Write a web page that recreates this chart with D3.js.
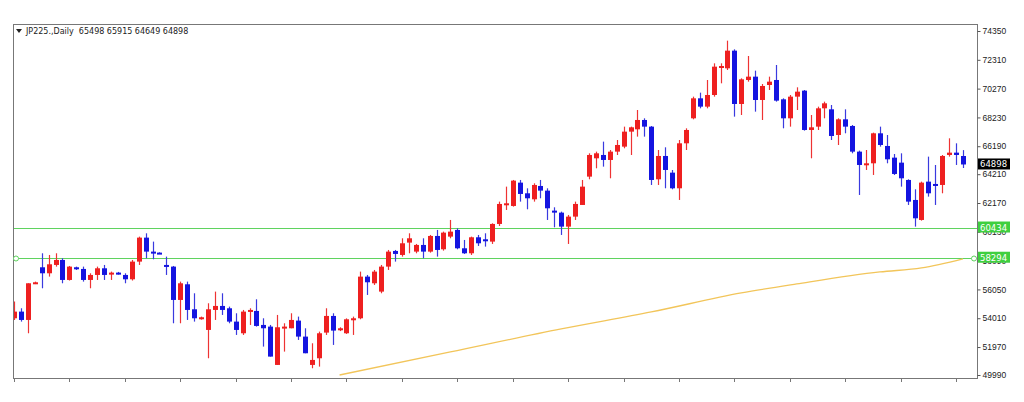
<!DOCTYPE html>
<html><head><meta charset="utf-8">
<script src="https://cdn.jsdelivr.net/npm/d3@7"></script>
<style>body{margin:0;background:#fff}svg{display:block;font-family:Tahoma,"DejaVu Sans",sans-serif}</style>
</head><body><div id="chart"></div>
<script>
// daily candles [open, high, low, close]
var candles = [
  [54007,55187,53889,54479],[54479,54715,53771,53889],[53889,56485,52945,56485],[56485,56603,56430,56556],
  [57618,58609,56131,57193],[57193,58491,56957,57830],[57783,58609,57665,58137],[58137,58255,56485,56721],
  [56721,57712,56680,57665],[57618,57665,57430,57476],[57500,57665,56603,56721],[56721,57193,56131,57075],
  [57075,57665,56721,57547],[57547,57783,56721,57075],[57146,57311,56721,57240],[57240,57290,57100,57146],
  [57075,57193,56485,56768],[56768,58137,56680,58019],[58019,59789,57783,59718],[59718,60025,58255,58727],
  [58727,59435,58184,58609],[58656,58680,58590,58609],[57783,58373,57075,57712],[57665,57712,53653,55305],
  [55305,56603,53653,56485],[56414,56603,53889,54597],[54644,55777,53771,54007],[53960,54125,53910,54078],
  [53181,55069,51175,54644],[54597,55895,53889,54880],[54880,55777,54243,54597],[54715,54833,53653,53771],
  [53771,54361,52827,53181],[52945,54597,52827,54479],[54479,54715,53535,54597],[54526,55352,53417,53464],
  [53535,54007,52001,53299],[53417,53535,51293,51293],[50703,54243,50703,53370],[53299,53653,51647,53417],
  [53299,54361,53299,53889],[53842,54125,52473,52709],[52709,53299,51529,51529],[50703,52237,50467,51057],
  [51175,53063,50585,52945],[52992,54715,52827,54172],[54172,54361,52119,53134],[53181,53370,53100,53299],
  [52945,54000,52900,53936],[53936,54125,52827,54007],[54007,57311,53936,56957],[56957,57075,55659,56556],
  [56485,57429,56367,57311],[55895,57783,55777,57665],[57665,58845,57429,58727],[58774,58845,58019,58562],
  [58491,59671,58373,59317],[59364,60025,58609,59671],[58727,59270,58609,59199],[59199,59671,58255,58727],
  [58727,59907,58656,59836],[59836,60261,58373,58845],[58892,60143,58798,60072],[59789,60969,59671,60143],
  [60261,60379,58892,58963],[58963,59553,58562,58609],[58609,59789,58491,59742],[59742,59907,59128,59317],
  [59600,60025,59081,59506],[59435,60733,59270,60686],[60686,62267,60544,62102],[62102,63329,61677,62149],
  [61960,63801,61913,63754],[63612,63801,62267,62810],[62857,63211,61724,62503],[62432,63565,62267,63447],
  [63376,63801,62503,63046],[63046,63211,60969,61795],[61630,61866,60450,61488],[61488,61559,59907,60497],
  [60497,61323,59270,61205],[61205,62267,60969,62102],[62031,63801,62031,63329],[64037,65689,63848,65571],
  [65335,65807,64627,65689],[65571,66515,64745,65217],[65217,65925,63919,65807],[65807,66633,65571,66279],
  [66161,67577,66043,67223],[67223,67577,65571,67530],[67388,68757,66869,68049],[68049,68167,66869,67577],
  [67577,67624,63447,63801],[63848,65925,63447,65500],[65500,66114,63211,64509],[64320,64509,63140,63211],
  [63211,66633,62385,66397],[66397,67459,65925,67341],[68167,69701,68096,69583],[69583,69984,68875,68993],
  [68993,70881,68875,69819],[69819,72061,69701,71825],[71825,72061,70645,71872],[71707,73666,71589,72958],
  [72958,73052,68285,69182],[69182,70999,68403,70928],[70881,72580,70763,71117],[71117,71542,68639,69465],
  [69465,70598,68049,70456],[70527,71117,70173,70763],[70881,71943,69347,69418],[69512,69583,67459,68167],
  [68167,69819,67577,69701],[69701,70362,68757,70055],[70126,70173,67294,67341],[67341,68403,65335,67530],
  [67577,68993,67341,68875],[68875,69347,68167,69229],[68804,69111,66633,66916],[66987,68167,66279,68096],
  [68096,68804,67105,67577],[67624,67695,65689,65807],[65807,65878,62739,64863],[64863,65925,64509,64981],
  [64981,67152,64155,67105],[67105,67577,66161,66279],[66208,66987,64981,65264],[65382,65642,64155,64226],
  [65028,65689,63329,63919],[63801,63848,62031,62267],[62385,63140,60497,61087],[60969,63683,60922,63612],
  [63683,65453,62621,62857],[63518,64863,62031,63376],[63447,65571,62857,65500],[65571,66751,65453,65736],
  [65736,66397,64863,65571],[65498,65915,64649,64898]
];
// slow moving average, read at a few candle indices
var maIndex = [47, 63, 79, 92, 105, 113, 125, 131, 137];
var maValue = [49990, 51623, 53252, 54455, 55800, 56438, 57287, 57570, 58210];
var levels = [60434, 58294];
var priceTicks = [74350, 72310, 70270, 68230, 66190, 64210, 62170, 60130, 58090, 56050, 54010, 51970, 49990];
var title = 'JP225.,Daily  65498 65915 64649 64898';

var W = 1024, H = 402;
var plot = {left: 13, right: 977, top: 24, bottom: 378};
var svg = d3.select('#chart').append('svg').attr('width', W).attr('height', H);

var x = d3.scaleLinear().domain([0, candles.length - 1]).range([14, 963]);
var y = d3.scaleLinear().domain([49990, 74350]).range([375, 31]);

svg.append('rect')
  .attr('x', plot.left + 0.5).attr('y', plot.top + 0.5)
  .attr('width', plot.right - plot.left).attr('height', plot.bottom - plot.top)
  .attr('fill', '#fff').attr('stroke', '#777');

svg.append('clipPath').attr('id', 'pc').append('rect')
  .attr('x', plot.left + 1).attr('y', plot.top + 1)
  .attr('width', plot.right - plot.left - 1).attr('height', plot.bottom - plot.top - 1);
var g = svg.append('g').attr('clip-path', 'url(#pc)');

// support levels
levels.forEach(function (v) {
  g.append('line')
    .attr('x1', plot.left).attr('x2', plot.right)
    .attr('y1', Math.round(y(v)) + 0.5).attr('y2', Math.round(y(v)) + 0.5)
    .attr('stroke', '#5fd35f').attr('stroke-width', 1);
});

// moving average
var ma = maIndex.map(function (d, i) { return [d, maValue[i]]; });
g.append('path')
  .attr('d', d3.line().x(function (d) { return x(d[0]); }).y(function (d) { return y(d[1]); })
    .curve(d3.curveMonotoneX)(ma))
  .attr('fill', 'none').attr('stroke', '#f2c55a').attr('stroke-width', 1.3);

var bars = g.selectAll('.c').data(candles).enter().append('g');
bars.append('line')
  .attr('x1', function (d, i) { return Math.round(x(i)) + 0.5; })
  .attr('x2', function (d, i) { return Math.round(x(i)) + 0.5; })
  .attr('y1', function (d) { return y(d[1]); })
  .attr('y2', function (d) { return y(d[2]); })
  .attr('stroke', function (d) { return d[3] >= d[0] ? '#ee3333' : '#3a3adf'; })
  .attr('stroke-width', 1.2);
bars.append('rect')
  .attr('x', function (d, i) { return Math.round(x(i)) - 2; })
  .attr('width', 5)
  .attr('y', function (d) { return y(Math.max(d[0], d[3])); })
  .attr('height', function (d) { return Math.max(2, Math.abs(y(d[0]) - y(d[3]))); })
  .attr('fill', function (d) { return d[3] >= d[0] ? '#ee2020' : '#1414e0'; });

// end markers of the level line
svg.append('circle').attr('cx', 16).attr('cy', Math.round(y(levels[1])) + 0.5).attr('r', 2.5)
  .attr('fill', '#fff').attr('stroke', '#5fd35f');
svg.append('circle').attr('cx', 974).attr('cy', Math.round(y(levels[1])) + 0.5).attr('r', 2.5)
  .attr('fill', '#fff').attr('stroke', '#5fd35f');

// price axis
var yAxis = d3.axisRight(y).tickValues(priceTicks).tickSize(3).tickFormat(d3.format('d'));
var ga = svg.append('g').attr('transform', 'translate(' + (plot.right + 0.5) + ',0)').call(yAxis);
ga.select('.domain').remove();
ga.selectAll('line').attr('stroke', '#555');
ga.selectAll('text').attr('x', 5).style('font-size', '8.5px').attr('fill', '#222');

// bottom time ticks
var tickIdx = d3.range(0, candles.length, 8);
svg.append('g').selectAll('line').data(tickIdx).enter().append('line')
  .attr('x1', function (d) { return Math.round(x(d)) + 0.5; })
  .attr('x2', function (d) { return Math.round(x(d)) + 0.5; })
  .attr('y1', plot.bottom).attr('y2', plot.bottom + 4).attr('stroke', '#777');

// value tags (they sit over the tick labels, as in the terminal)
function tag(v, bg) {
  var yy = y(v);
  svg.append('rect').attr('x', plot.right + 1).attr('y', yy - 6).attr('width', 32).attr('height', 11).attr('fill', bg);
  svg.append('text').attr('x', plot.right + 3).attr('y', yy + 3).text(d3.format('d')(v))
    .style('font-size', '8.5px').attr('fill', '#fff');
}
tag(levels[0], '#3fcf3f');
tag(levels[1], '#3fcf3f');
tag(candles[candles.length - 1][3], '#000');

// header
svg.append('path').attr('d', 'M16,29 L22,29 L19,33 Z').attr('fill', '#222');
svg.append('text').attr('x', 26).attr('y', 34).text(title)
  .style('font-size', '8px').attr('fill', '#222').attr('xml:space', 'preserve');
</script>
</body></html>
